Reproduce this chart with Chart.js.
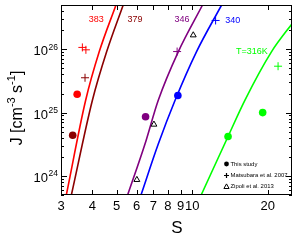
<!DOCTYPE html>
<html>
<head>
<meta charset="utf-8">
<script src="https://cdn.jsdelivr.net/npm/chart.js@4"></script>
<style>
  html, body { margin: 0; padding: 0; background: #fff; }
  #jChart { display: block; }
</style>
</head>
<body>
<canvas id="jChart" width="297" height="242"></canvas>
<script>
// axis ticks
const sTicks = [3, 4, 5, 6, 7, 8, 9, 10, 20];
const jMajor = [1e24, 1e25, 1e26];

// CNT curves (S, J)
const s383 = [3.15, 3.76, 4.26, 4.97];
const j383 = [5e23, 1.55e25, 9.1e25, 5e26];
const s379 = [3.30, 4.00, 4.56, 5.31];
const j379 = [5e23, 1.55e25, 9.1e25, 5e26];
const s346 = [5.53, 6.48, 7.32, 8.80, 11.0];
const j346 = [5e23, 3.16e24, 1.55e25, 9.1e25, 5e26];
const s340 = [6.25, 7.32, 8.54, 10.4, 13.1];
const j340 = [5e23, 3.16e24, 1.55e25, 9.1e25, 5e26];
const s316 = [10.86, 13.9, 16.2, 20.7, 25.5];
const j316 = [5e23, 4.2e24, 1.55e25, 9.1e25, 2.8e26];

// this study (filled circles)
const studyS = [3.48, 3.34, 6.52, 8.77, 19.1, 13.9];
const studyJ = [1.95e25, 4.4e24, 8.6e24, 1.86e25, 1.0e25, 4.2e24];
const studyT = ['383', '379', '346', '340', '316', '316'];

// Matsubara et al. 2007 (crosses)
const matsS = [3.65, 3.77, 3.74, 8.71, 12.4, 22.0];
const matsJ = [1.07e26, 0.98e26, 3.55e25, 9.2e25, 2.85e26, 5.4e25];
const matsT = ['383', '383', '379', '346', '340', '316'];

// Zipoli et al. 2013 (open triangles)
const zipS = [10.1, 7.04, 6.02];
const zipJ = [1.67e26, 6.5e24, 8.7e23];

// temperature labels
const labelText = ['383', '379', '346', '340', 'T=316K'];
const labelS = [4.15, 5.92, 9.1, 14.5, 17.3];
const labelJ = [2.9e26, 2.9e26, 2.9e26, 2.8e26, 9.2e25];
const labelT = ['383', '379', '346', '340', '316'];

const tColor = {
    '383': '#ff0000',
    '379': '#8b0000',
    '346': '#800080',
    '340': '#0000ff',
    '316': '#00ff00',
};

const toXY = (xs, ys) => xs.map((x, i) => ({ x: x, y: ys[i] }));

function curve(xs, ys, t) {
    return {
        data: toXY(xs, ys),
        showLine: true,
        borderColor: tColor[t],
        borderWidth: 1.6,
        pointRadius: 0,
        cubicInterpolationMode: 'monotone',
        fill: false,
    };
}

const FONT = '"Liberation Sans", Arial, sans-serif';

const extras = {
    id: 'extras',
    afterDatasetsDraw(chart) {
        const ctx = chart.ctx;
        const a = chart.chartArea;
        const xs = chart.scales.x;
        const ys = chart.scales.y;
        ctx.save();

        // frame
        ctx.strokeStyle = '#000';
        ctx.lineWidth = 1;
        ctx.strokeRect(a.left + 0.5, a.top + 0.5, a.right - a.left - 1, a.bottom - a.top - 1);

        // x ticks, bottom and top
        ctx.beginPath();
        sTicks.forEach((v) => {
            const px = Math.round(xs.getPixelForValue(v)) + 0.5;
            ctx.moveTo(px, a.bottom);
            ctx.lineTo(px, a.bottom - 5);
            ctx.moveTo(px, a.top);
            ctx.lineTo(px, a.top + 5);
        });
        // y ticks, left and right
        for (let e = 23; e <= 26; e++) {
            for (let k = 1; k <= 9; k++) {
                const v = k * Math.pow(10, e);
                if (v < ys.min || v > ys.max) continue;
                const py = Math.round(ys.getPixelForValue(v)) + 0.5;
                const len = k === 1 ? 6 : 3;
                ctx.moveTo(a.left, py);
                ctx.lineTo(a.left + len, py);
                ctx.moveTo(a.right, py);
                ctx.lineTo(a.right - len, py);
            }
        }
        ctx.stroke();

        // y tick labels 10^n
        ctx.fillStyle = '#000';
        ctx.textBaseline = 'alphabetic';
        jMajor.forEach((v) => {
            const py = ys.getPixelForValue(v);
            const sup = String(Math.round(Math.log10(v)));
            ctx.font = '8.5px ' + FONT;
            const supW = ctx.measureText(sup).width;
            ctx.textAlign = 'left';
            const supX = a.left - 3 - supW;
            ctx.fillText(sup, supX, py + 0.5);
            ctx.font = '13px ' + FONT;
            ctx.textAlign = 'right';
            ctx.fillText('10', supX - 0.5, py + 6);
        });

        // y title with superscripts, rotated
        const parts = [
            ['J [cm', false], ['-3', true], [' s', false], ['-1', true], [']', false],
        ];
        const bigF = '16px ' + FONT;
        const smallF = '11px ' + FONT;
        let total = 0;
        parts.forEach((p) => {
            ctx.font = p[1] ? smallF : bigF;
            total += ctx.measureText(p[0]).width;
        });
        ctx.save();
        ctx.translate(22, 108);
        ctx.rotate(-Math.PI / 2);
        ctx.textAlign = 'left';
        let cx = -total / 2;
        parts.forEach((p) => {
            ctx.font = p[1] ? smallF : bigF;
            ctx.fillText(p[0], cx, p[1] ? -7 : 0);
            cx += ctx.measureText(p[0]).width;
        });
        ctx.restore();

        // x title
        ctx.font = '17px ' + FONT;
        ctx.textAlign = 'center';
        ctx.textBaseline = 'middle';
        ctx.fillText('S', (a.left + a.right) / 2 + 0.5, 228);

        // temperature labels
        ctx.font = '9px ' + FONT;
        labelText.forEach((t, i) => {
            ctx.fillStyle = tColor[labelT[i]];
            ctx.fillText(t, xs.getPixelForValue(labelS[i]), ys.getPixelForValue(labelJ[i]));
        });

        // legend
        const lx = a.left + 165.5;
        const rows = [a.top + 159, a.top + 170.5, a.top + 181.5];
        ctx.fillStyle = '#000';
        ctx.strokeStyle = '#000';
        ctx.beginPath();
        ctx.arc(lx, rows[0], 2.4, 0, Math.PI * 2);
        ctx.fill();
        ctx.lineWidth = 1.2;
        ctx.beginPath();
        ctx.moveTo(lx - 2.5, rows[1]);
        ctx.lineTo(lx + 2.5, rows[1]);
        ctx.moveTo(lx, rows[1] - 2.5);
        ctx.lineTo(lx, rows[1] + 2.5);
        ctx.stroke();
        ctx.lineWidth = 1;
        ctx.beginPath();
        ctx.moveTo(lx - 2.6, rows[2] + 2);
        ctx.lineTo(lx + 2.6, rows[2] + 2);
        ctx.lineTo(lx, rows[2] - 2.6);
        ctx.closePath();
        ctx.stroke();
        ctx.font = '5.9px ' + FONT;
        ctx.textAlign = 'left';
        ctx.textBaseline = 'middle';
        ctx.fillText('This study', lx + 4, rows[0]);
        ctx.fillText('Matsubara et al. 2007', lx + 4, rows[1]);
        ctx.fillText('Zipoli et al. 2013', lx + 4, rows[2]);

        ctx.restore();
    },
};

const chart = new Chart(document.getElementById('jChart').getContext('2d'), {
    type: 'scatter',
    data: {
        datasets: [
            {
                label: 'This study',
                data: toXY(studyS, studyJ),
                pointStyle: 'circle',
                pointRadius: 3.8,
                pointBackgroundColor: studyT.map((t) => tColor[t]),
                pointBorderColor: studyT.map((t) => tColor[t]),
                pointBorderWidth: 0,
            },
            {
                label: 'Matsubara et al. 2007',
                data: toXY(matsS, matsJ),
                pointStyle: 'cross',
                pointRadius: 4,
                pointBorderWidth: 1,
                pointBorderColor: matsT.map((t) => tColor[t]),
            },
            {
                label: 'Zipoli et al. 2013',
                data: toXY(zipS, zipJ),
                pointStyle: 'triangle',
                pointRadius: 3.4,
                pointBorderWidth: 1,
                pointBorderColor: '#000',
                pointBackgroundColor: '#fff',
            },
            curve(s383, j383, '383'),
            curve(s379, j379, '379'),
            curve(s346, j346, '346'),
            curve(s340, j340, '340'),
            curve(s316, j316, '316'),
        ],
    },
    options: {
        responsive: false,
        animation: false,
        devicePixelRatio: 1,
        layout: { padding: { top: 3, right: 3, left: 0, bottom: 0 } },
        plugins: {
            legend: { display: false },
            tooltip: { enabled: false },
        },
        scales: {
            x: {
                type: 'logarithmic',
                min: 3,
                max: 25,
                afterBuildTicks: (scale) => {
                    scale.ticks = sTicks.map((v) => ({ value: v }));
                },
                afterFit: (scale) => { scale.height = 47; },
                grid: { display: false, drawTicks: false },
                border: { display: false },
                ticks: {
                    autoSkip: false,
                    maxRotation: 0,
                    padding: 4,
                    color: '#000',
                    font: { family: FONT, size: 13 },
                    callback: (v) => String(v),
                },
            },
            y: {
                type: 'logarithmic',
                min: 5e23,
                max: 5e26,
                afterBuildTicks: (scale) => {
                    scale.ticks = jMajor.map((v) => ({ value: v }));
                },
                afterFit: (scale) => { scale.width = 61; },
                grid: { display: false, drawTicks: false },
                border: { display: false },
                ticks: { display: false },
            },
        },
    },
    plugins: [extras],
});
</script>
</body>
</html>
